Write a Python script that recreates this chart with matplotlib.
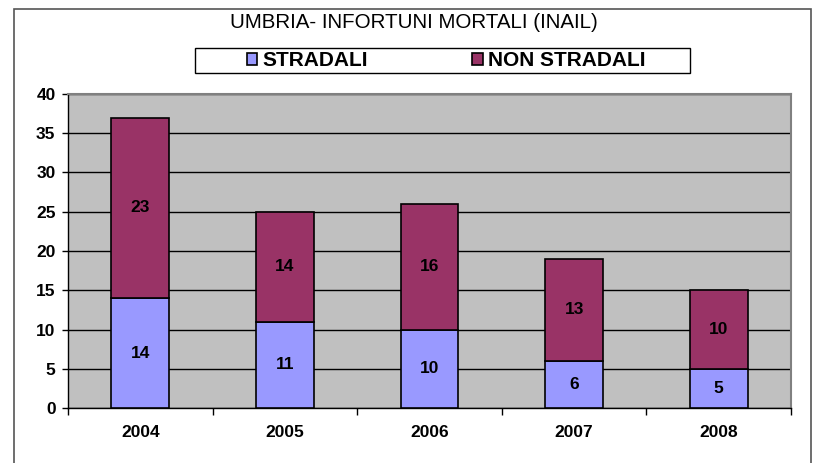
import matplotlib
matplotlib.use("Agg")
import matplotlib.pyplot as plt
from matplotlib.patches import Rectangle
from matplotlib import font_manager
import numpy as np

years = ['2004', '2005', '2006', '2007', '2008']
stradali = [14, 11, 10, 6, 5]
non_stradali = [23, 14, 16, 13, 10]
title = 'UMBRIA- INFORTUNI MORTALI (INAIL)'
series_names = ['STRADALI', 'NON STRADALI']
colors = ['#9999FF', '#993366']

plt.rcParams['font.family'] = ['Liberation Sans', 'DejaVu Sans']

names = {f.name for f in font_manager.fontManager.ttflist}
narrow = 'Liberation Sans Narrow' in names

W, H = 813, 463
fig = plt.figure(figsize=(W / 100, H / 100), dpi=100)
fig.patch.set_facecolor('white')

def fx(px):
    return px / W

def fy(py):
    return 1 - py / H

# outer chart border
fig.add_artist(Rectangle((fx(14), fy(470)), fx(811) - fx(14), fy(9) - fy(470),
                         transform=fig.transFigure, fill=False,
                         edgecolor='#555555', lw=1.2))

ax = fig.add_axes([fx(68), fy(408), fx(791) - fx(68), fy(94) - fy(408)])
ax.set_facecolor('#C0C0C0')

x = np.arange(len(years))
b1 = ax.bar(x, stradali, width=0.4, color=colors[0], edgecolor='black', lw=1.2,
            label=series_names[0], zorder=3)
b2 = ax.bar(x, non_stradali, width=0.4, bottom=stradali, color=colors[1],
            edgecolor='black', lw=1.2, label=series_names[1], zorder=3)

for rect, v in zip(b1, stradali):
    ax.text(rect.get_x() + rect.get_width() / 2, rect.get_y() + rect.get_height() / 2,
            str(v), ha='center', va='center', fontsize=12.5, fontweight='bold', zorder=4)
for rect, v in zip(b2, non_stradali):
    ax.text(rect.get_x() + rect.get_width() / 2, rect.get_y() + rect.get_height() / 2,
            str(v), ha='center', va='center', fontsize=12.5, fontweight='bold', zorder=4)

ax.set_ylim(0, 40)
ax.set_xlim(-0.5, len(years) - 0.5)
ax.set_yticks(np.arange(0, 41, 5))
ax.tick_params(axis='y', direction='out', length=4, width=1, labelsize=12.5, pad=5)
for lab in ax.get_yticklabels():
    lab.set_fontweight('bold')

ax.set_xticks(np.arange(-0.5, len(years), 1.0))
ax.set_xticklabels([])
ax.tick_params(axis='x', which='major', direction='out', length=5, width=1)
ax.set_xticks(x, minor=True)
ax.set_xticklabels(years, minor=True, fontsize=12.5, fontweight='bold')
ax.tick_params(axis='x', which='minor', length=0, pad=12)

ax.yaxis.grid(True, color='black', lw=1, zorder=1)
ax.set_axisbelow(True)
for s in ['top', 'right']:
    ax.spines[s].set_color('#808080')
    ax.spines[s].set_linewidth(1.5)
for s in ['left', 'bottom']:
    ax.spines[s].set_color('black')
    ax.spines[s].set_linewidth(1)

if narrow:
    fig.text(fx(414), fy(23), title, ha='center', va='center', fontsize=17.5,
             family=['Liberation Sans Narrow', 'Liberation Sans'], fontweight='bold')
else:
    fig.text(fx(414), fy(23), title, ha='center', va='center', fontsize=14.8)

# legend box
fig.add_artist(Rectangle((fx(195), fy(73)), fx(690) - fx(195), fy(48) - fy(73),
                         transform=fig.transFigure, fill=True, facecolor='white',
                         edgecolor='black', lw=1))
leg = fig.legend(handles=[b1, b2], labels=series_names, loc='center',
                 bbox_to_anchor=(fx(446), fy(60.5)), ncol=2, frameon=False,
                 fontsize=15, handlelength=0.5, handleheight=0.5,
                 handletextpad=0.25, columnspacing=5.0, borderpad=0)
for t in leg.get_texts():
    t.set_fontweight('bold')

fig.savefig('out.png', dpi=100)
